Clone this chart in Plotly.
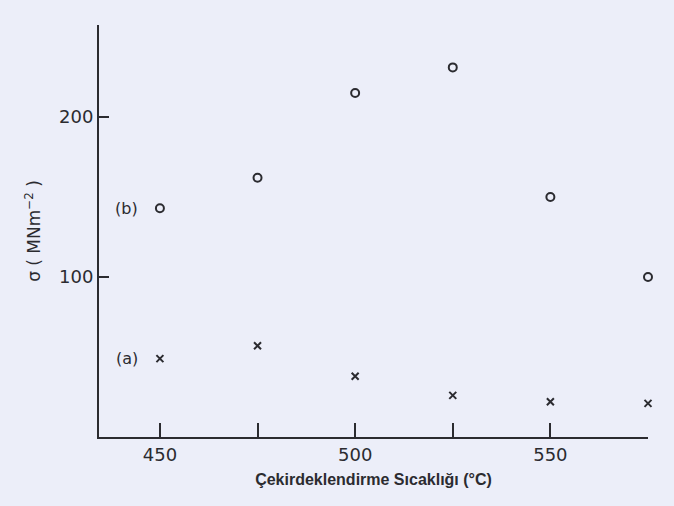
import plotly.graph_objects as go

# Nucleation temperature (°C) and stress values (MN m^-2)
temps = [450, 475, 500, 525, 550, 575]
series_b = [143, 162, 215, 231, 150, 100]
series_a = [49, 57, 38, 26, 22, 21]

x_label_vals = [450, 500, 550]
x_unlabelled_vals = [475, 525, 575]
y_tickvals = [100, 200]

ink = "#2b2b30"
paper = "#eceef9"
round_font = "DejaVu Sans, Verdana, sans-serif"
title_font = "Liberation Sans, Arial, sans-serif"

fig = go.Figure()

fig.add_trace(go.Scatter(
    x=temps, y=series_b, mode="markers", name="(b)",
    marker=dict(symbol="circle-open", size=8, color=ink, line=dict(width=2, color=ink)),
    cliponaxis=False,
))
fig.add_trace(go.Scatter(
    x=temps, y=series_a, mode="markers", name="(a)",
    marker=dict(symbol="x-thin", size=7, color=ink, line=dict(width=2, color=ink)),
    cliponaxis=False,
))

# series labels next to the first points
fig.add_annotation(x=441.5, y=series_b[0], text="(b)", showarrow=False,
                   font=dict(family=round_font, size=16, color=ink))
fig.add_annotation(x=441.5, y=series_a[0], text="(a)", showarrow=False,
                   font=dict(family=round_font, size=16, color=ink))

fig.update_layout(
    width=674, height=506,
    margin=dict(l=99, r=26, t=25, b=69),
    paper_bgcolor=paper, plot_bgcolor=paper,
    showlegend=False,
    font=dict(family=round_font, color=ink),
    xaxis=dict(
        range=[434.4, 575], showgrid=False, zeroline=False,
        showline=True, linecolor=ink, linewidth=2,
        ticks="inside", ticklen=14, tickwidth=1.8, tickcolor=ink,
        tickmode="array", tickvals=x_label_vals,
        minor=dict(tickmode="array", tickvals=x_unlabelled_vals, ticks="inside",
                   ticklen=14, tickwidth=1.8, tickcolor=ink, showgrid=False),
        tickfont=dict(family=round_font, size=18, color=ink),
        title=dict(text="<b>Çekirdeklendirme Sıcaklığı (°C)</b>",
                   font=dict(family=title_font, size=16, color=ink), standoff=10),
    ),
    yaxis=dict(
        range=[0, 257.5], showgrid=False, zeroline=False,
        showline=True, linecolor=ink, linewidth=2,
        ticks="inside", ticklen=10, tickwidth=1.8, tickcolor=ink,
        tickmode="array", tickvals=y_tickvals,
        tickfont=dict(family=round_font, size=18, color=ink),
        title=dict(text="σ ( MNm<sup>−2</sup> )", font=dict(family=round_font, size=17, color=ink),
                   standoff=14),
    ),
)

fig.write_html("out.html")
